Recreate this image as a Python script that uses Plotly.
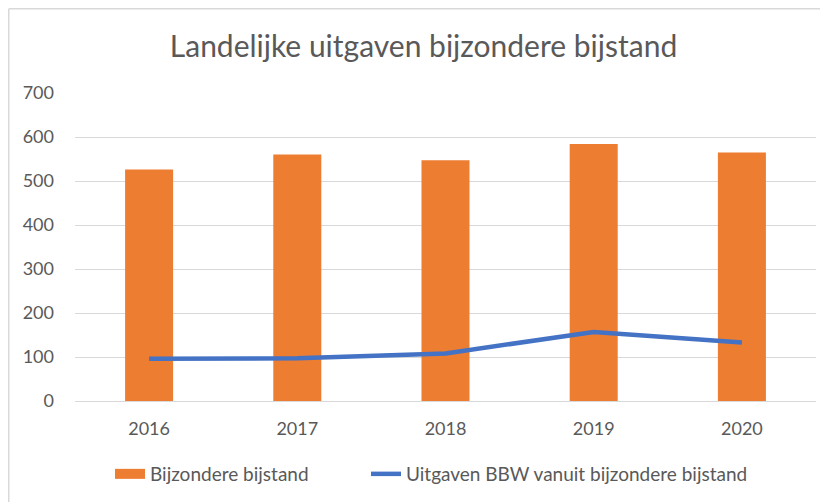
import plotly.graph_objects as go

years = ["2016", "2017", "2018", "2019", "2020"]
bijzondere_bijstand = [526, 560, 547, 584, 565]
uitgaven_bbw = [96, 97, 108, 157, 133]
y_ticks = [0, 100, 200, 300, 400, 500, 600, 700]

W, H = 828, 502
ml, mr, mt, mb = 67, 20, 85, 109
pw = W - ml - mr
ph = H - mt - mb

ORANGE = "#ED7D31"
BLUE = "#4472C4"
GREY = "#595959"
font_family = "Lato, 'Open Sans', sans-serif"

fig = go.Figure()
fig.add_trace(go.Bar(
    x=years, y=bijzondere_bijstand, name="Bijzondere bijstand",
    marker=dict(color=ORANGE, line=dict(width=0)), showlegend=False,
))
fig.add_trace(go.Scatter(
    x=years, y=uitgaven_bbw, name="Uitgaven BBW vanuit bijzondere bijstand",
    mode="lines", line=dict(color=BLUE, width=4.5), showlegend=False,
))
# legend entries (rectangle swatch for the bars, line for the series)
fig.add_trace(go.Scatter(
    x=[None], y=[None], name="Bijzondere bijstand", mode="lines",
    line=dict(color=ORANGE, width=12), legend="legend",
))
fig.add_trace(go.Scatter(
    x=[None], y=[None], name="Uitgaven BBW vanuit bijzondere bijstand", mode="lines",
    line=dict(color=BLUE, width=4.5), legend="legend2",
))

leg_y = -(466 - (H - mb)) / ph
fig.update_layout(
    width=W, height=H,
    margin=dict(l=ml, r=mr, t=mt, b=mb),
    paper_bgcolor="white", plot_bgcolor="white",
    bargap=0.676,
    title=dict(text="Landelijke uitgaven bijzondere bijstand",
               x=415.5 / W, xanchor="center", y=1 - 38 / H, yanchor="middle",
               font=dict(family=font_family, size=30, color=GREY)),
    font=dict(family=font_family, size=18, color=GREY),
    xaxis=dict(showgrid=False, showline=True, linecolor="#D9D9D9", linewidth=1,
               ticks="", ticklabelstandoff=11, tickfont=dict(size=18, color=GREY)),
    yaxis=dict(range=[0, 700], tickvals=y_ticks, showgrid=True, gridcolor="#D9D9D9",
               gridwidth=1, zeroline=False, showline=False, ticks="",
               ticklabelstandoff=20, tickfont=dict(size=18, color=GREY)),
    legend=dict(orientation="h", x=(102 - ml) / pw, xanchor="left",
                y=leg_y, yanchor="middle", bgcolor="rgba(0,0,0,0)",
                font=dict(size=19, color=GREY)),
    legend2=dict(orientation="h", x=(358 - ml) / pw, xanchor="left",
                 y=leg_y, yanchor="middle", bgcolor="rgba(0,0,0,0)",
                 font=dict(size=19, color=GREY)),
)

# chart border (top and left edges visible)
xl = (0.75 - ml) / pw
yt = 1 + (mt - 0.75) / ph
fig.add_shape(type="line", xref="paper", yref="paper", x0=xl, x1=(W - ml) / pw + 0.01,
              y0=yt, y1=yt, line=dict(color="#D9D9D9", width=1.5))
fig.add_shape(type="line", xref="paper", yref="paper", x0=xl, x1=xl,
              y0=yt, y1=-(mb + 5) / ph, line=dict(color="#D9D9D9", width=1.5))

fig.write_html("out.html")
